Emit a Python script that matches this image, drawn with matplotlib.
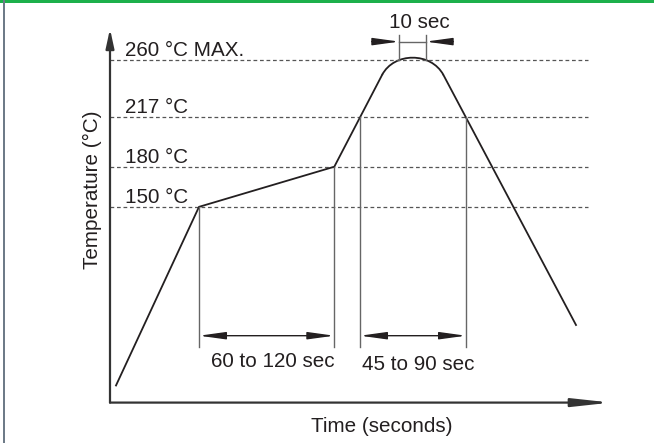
import matplotlib.pyplot as plt
from matplotlib.path import Path
from matplotlib.patches import PathPatch, Rectangle

plt.rcParams['font.family'] = ['Liberation Sans', 'DejaVu Sans']

# reflow profile (schematic, time in arbitrary units, temperature in °C)
levels = [150, 180, 217, 260]
level_labels = ['150 °C', '180 °C', '217 °C', '260 °C MAX.']

ramp_t = [6, 89, 224.3, 272.1]
ramp_T = [16.5, 150, 180, 248.6]
peak_t = [272.1, 284.1, 321.1, 333.4]      # bezier control points of the rounded top
peak_T = [248.6, 265.8, 265.8, 248.6]
cool_t = [333.4, 466]
cool_T = [248.6, 61.7]

soak = (89, 224.3)          # 150 -> 180 °C
liquidus = (250, 356)       # time above 217 °C
peak_window = (289.3, 315.7)

soak_label = '60 to 120 sec'
liquidus_label = '45 to 90 sec'
peak_label = '10 sec'

ink = '#231f20'
gray = '#555555'

fig = plt.figure(figsize=(6.54, 4.43), dpi=100)
ax = fig.add_axes([0, 0, 1, 1])
ax.set_xlim(-110, 544)
ax.set_ylim(-26.5, 304.6)
ax.axis('off')

# axes with arrows
ax.annotate('', xy=(0, 283), xytext=(0, 3.7),
            arrowprops=dict(arrowstyle='-|>,head_length=1.15,head_width=0.25',
                            lw=1.6, color='#333333', shrinkA=0, shrinkB=0))
ax.annotate('', xy=(501, 3.7), xytext=(0, 3.7),
            arrowprops=dict(arrowstyle='-|>,head_length=2.3,head_width=0.25',
                            lw=1.6, color='#333333', shrinkA=0, shrinkB=0))

# temperature levels
for lv, lab in zip(levels, level_labels):
    ax.plot([0, 478], [lv, lv], ls=(0, (3, 2.2)), lw=0.9, color=gray)
    ax.text(15, lv + 3, lab, fontsize=14.9, color=ink, va='baseline', ha='left')

# profile
ax.plot(ramp_t, ramp_T, color=ink, lw=1.3)
verts = list(zip(peak_t, peak_T))
ax.add_patch(PathPatch(Path(verts, [Path.MOVETO, Path.CURVE4, Path.CURVE4, Path.CURVE4]),
                       fill=False, color=ink, lw=1.3))
ax.plot(cool_t, cool_T, color=ink, lw=1.3)

# dimension lines
bottom = 45.5
arrow_y = 53.7
for t, top in [(soak[0], 150), (soak[1], 180), (liquidus[0], 217), (liquidus[1], 217)]:
    ax.plot([t, t], [top, bottom], color='#666666', lw=1.0)

dim = dict(arrowstyle='<|-|>,head_length=1.6,head_width=0.22', lw=1.0,
           color=ink, shrinkA=0, shrinkB=0)
ax.annotate('', xy=(soak[0], arrow_y), xytext=(soak[1], arrow_y), arrowprops=dim)
ax.annotate('', xy=(liquidus[0], arrow_y), xytext=(liquidus[1], arrow_y), arrowprops=dim)
ax.text(soak[1], 30.6, soak_label, fontsize=14.9, color=ink, ha='right', va='baseline')
ax.text(liquidus[0] + 2, 28.1, liquidus_label, fontsize=14.9, color=ink, ha='left', va='baseline')

# 10 sec window at the peak
for t in peak_window:
    ax.plot([t, t], [259.8, 278.5], color='#666666', lw=1.0)
ax.plot(peak_window, [273.5, 273.5], color='#666666', lw=1.0)
one = dict(arrowstyle='-|>,head_length=1.6,head_width=0.22', lw=1.0,
           color=ink, shrinkA=0, shrinkB=0)
ax.annotate('', xy=(peak_window[0], 273.5), xytext=(261.7, 273.5), arrowprops=one)
ax.annotate('', xy=(peak_window[1], 273.5), xytext=(343.3, 273.5), arrowprops=one)
ax.text(309.7, 283.5, peak_label, fontsize=14.9, color=ink, ha='center', va='baseline')

# axis titles
ax.text(-18, 163, 'Temperature (°C)', fontsize=14.9, color=ink, rotation=90,
        ha='center', va='center')
ax.text(272, -14, 'Time (seconds)', fontsize=14.9, color=ink, ha='center', va='center')

# page frame
fig.add_artist(Rectangle((0, 1 - 2.5 / 443), 1, 2.5 / 443, transform=fig.transFigure,
                         color='#1db04b', lw=0))
fig.add_artist(Rectangle((2.7 / 654, 0), 2 / 654, 1, transform=fig.transFigure,
                         color='#6e7b88', lw=0))

fig.savefig('out.png', dpi=100)
